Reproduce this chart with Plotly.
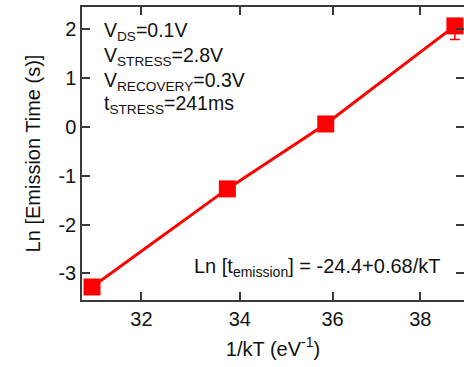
import plotly.graph_objects as go

# Data
inv_kT = [31.04, 33.74, 35.85, 38.82]
ln_emission = [-3.28, -1.27, 0.06, 2.07]
err_plus = [0.0, 0.0, 0.0, 0.05]
err_minus = [0.0, 0.0, 0.0, 0.28]

x_ticks = [32, 34, 36, 38]
y_ticks = [-3, -2, -1, 0, 1, 2]

RED = "#ff0000"
AX = "#3a3a3a"
FONT = "Liberation Sans, Arial, Helvetica, sans-serif"
TXT = "#111"

fig = go.Figure()
fig.add_trace(go.Scatter(
    x=inv_kT, y=ln_emission, mode="lines+markers",
    line=dict(color=RED, width=3),
    marker=dict(symbol="square", size=17, color=RED),
    error_y=dict(type="data", array=err_plus, arrayminus=err_minus, visible=True,
                 color=RED, thickness=1.5, width=5),
    cliponaxis=False, showlegend=False,
))
# invisible helper trace so the right-hand tick axis is drawn
fig.add_trace(go.Scatter(x=[inv_kT[0]], y=[ln_emission[0]], yaxis="y2", mode="markers",
                         marker=dict(opacity=0), showlegend=False, hoverinfo="skip"))

tick_common = dict(ticks="inside", ticklen=8, tickwidth=1.5, tickcolor=AX,
                   showgrid=False, zeroline=False,
                   tickfont=dict(family=FONT, size=20, color=TXT))

yrange = [-3.547, 2.457]
fig.update_layout(
    width=464, height=367,
    margin=dict(l=82, r=0, t=7, b=67),
    paper_bgcolor="white", plot_bgcolor="white",
    xaxis=dict(type="log", range=[1.48924, 1.59149], tickvals=x_ticks,
               ticktext=[str(v) for v in x_ticks],
               showline=True, linecolor=AX, linewidth=1.5, mirror="ticks",
               title=dict(text="1/kT (eV<sup>-1</sup>)", font=dict(family=FONT, size=20, color=TXT), standoff=13),
               **tick_common),
    yaxis=dict(range=yrange, tickvals=y_ticks, ticktext=[str(v) for v in y_ticks],
               showline=True, linecolor=AX, linewidth=1.5, mirror=False,
               title=dict(text="Ln [Emission Time (s)]", font=dict(family=FONT, size=20, color=TXT), standoff=12),
               **tick_common),
    yaxis2=dict(range=yrange, tickvals=y_ticks, overlaying="y", side="right",
                showticklabels=False, showline=False, **tick_common),
    font=dict(family=FONT, color=TXT),
)

lines = ["V<sub>DS</sub>=0.1V", "V<sub>STRESS</sub>=2.8V",
         "V<sub>RECOVERY</sub>=0.3V", "t<sub>STRESS</sub>=241ms"]
ys = [0.9147, 0.8294, 0.7474, 0.6689]
for t, yy in zip(lines, ys):
    fig.add_annotation(text=t, xref="paper", yref="paper", x=0.0516, y=yy,
                       xanchor="left", yanchor="middle", showarrow=False,
                       font=dict(family=FONT, size=19.5, color=TXT))

fig.add_annotation(text="Ln [t<sub>emission</sub>] = -24.4+0.68/kT",
                   xref="paper", yref="paper", x=0.945, y=0.1126,
                   xanchor="right", yanchor="middle", showarrow=False,
                   font=dict(family=FONT, size=20, color=TXT))

fig.write_html("out.html")
